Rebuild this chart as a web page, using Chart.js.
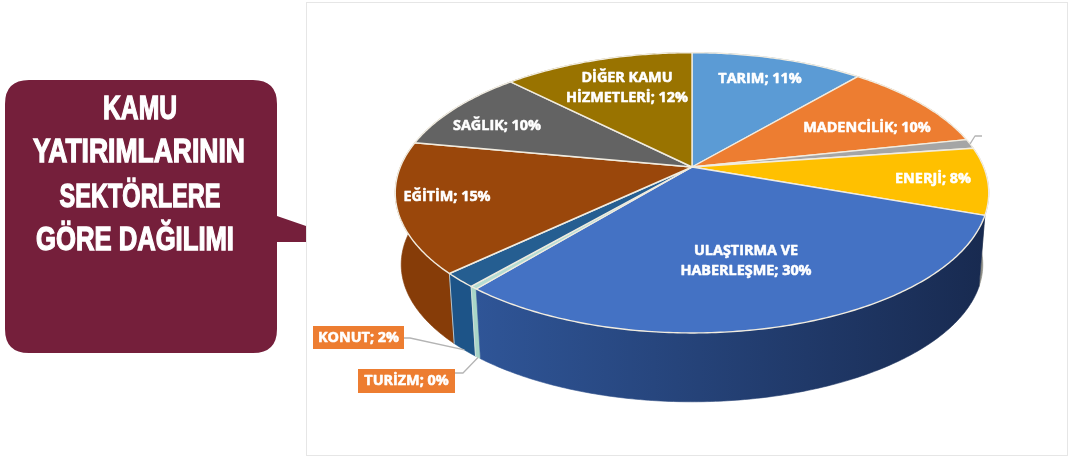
<!DOCTYPE html>
<html lang="tr"><head><meta charset="utf-8">
<style>
html,body{margin:0;padding:0;background:#fff;overflow:hidden}
#wrap{position:relative;width:1069px;height:457px}
#frame{position:absolute;left:306px;top:2px;width:760px;height:452px;border:1px solid #e6e6e6;box-sizing:content-box}
#chart{position:absolute;left:0;top:0;filter:blur(.4px)}
#callout{position:absolute;left:0;top:0;filter:blur(.4px)}
</style>
<script src="https://cdn.jsdelivr.net/npm/chart.js@4/dist/chart.umd.js"></script>
</head><body>
<div id="wrap">
<div id="frame"></div>
<canvas id="chart" width="1069" height="457"></canvas>
<svg id="callout" width="1069" height="457">
  <path d="M29 80H253Q277 80 277 104V216L306 226V242H277V329Q277 353 253 353H29Q5 353 5 329V104Q5 80 29 80Z" fill="#751f3b"/>
  <g fill="#fff" stroke="#fff" stroke-width="1.3" font-family="'Liberation Sans Narrow','Liberation Sans',sans-serif" font-weight="700" font-size="33" text-anchor="middle">
    <text x="140" y="119" textLength="74" lengthAdjust="spacingAndGlyphs">KAMU</text>
    <text x="139" y="162" textLength="212" lengthAdjust="spacingAndGlyphs">YATIRIMLARININ</text>
    <text x="140" y="207" textLength="161" lengthAdjust="spacingAndGlyphs">SEKTÖRLERE</text>
    <text x="135" y="250" textLength="198" lengthAdjust="spacingAndGlyphs">GÖRE DAĞILIMI</text>
  </g>
</svg>
</div>
<script>
const categories = ['TARIM','MADENCİLİK','','ENERJİ','ULAŞTIRMA VE\nHABERLEŞME','TURİZM','KONUT','EĞİTİM','SAĞLIK','DİĞER KAMU\nHİZMETLERİ'];
const shares = [11.2,10.4,1.1,7.7,30.45,0.35,1.65,15,9.6,12.4];
const topColors = ['#5b9bd5','#ed7d31','#a5a5a5','#ffc000','#4472c4','#b5dcd3','#255e91','#9a470b','#636363','#997300'];
const wallLight = ['#4a80b0','#c4682a','#8a8a8a','#8c8c84','#2f5597','#a9d6c8','#1d5488','#863c08','#555555','#7f6000'];
const wallDark  = ['#4a80b0','#c4682a','#8a8a8a','#8c8c84','#182a50','#a9d6c8','#1d5488','#863c08','#555555','#7f6000'];
const labelAnchors = [[760,79],[867,128],null,[933,179],[746,261],null,null,[447,197],[497,126],[627,88]];
const boxedLabels = {5:{x:358,y:369,w:97,h:24,knee:[[463,373],[455,373]]},6:{x:313,y:326,w:91,h:23,knee:[[410,338],[404,338]]}};

const K=0.1843, AX=1.866, BY=0.866, DROP=72.5/157, SHRINK=0.98;
function pt(el,th,low){
  const C=Math.cos(th),S=Math.sin(th),d=1+K*C,R=el.outerRadius,s=low?SHRINK:1;
  return [el.x+AX*R*S/d*s, el.y+(low?DROP*R:0)-BY*R*C/d*s];
}
function rim(el,low){
  const a=el.startAngle+Math.PI/2,b=el.endAngle+Math.PI/2,n=Math.max(2,Math.ceil((b-a)/0.012)),out=[];
  for(let i=0;i<=n;i++)out.push(pt(el,a+(b-a)*i/n,low));
  return out;
}
const pie3d={
  id:'pie3d',
  beforeDatasetsDraw(chart){
    const ctx=chart.ctx,arcs=chart.getDatasetMeta(0).data;
    ctx.save();
    const depth=e=>Math.cos((e.startAngle+e.endAngle)/2+Math.PI/2);
    const order=arcs.map((e,i)=>i).sort((p,q)=>depth(arcs[p])-depth(arcs[q])).reverse();
    for(const i of order){
      const el=arcs[i],t=rim(el,false),b=rim(el,true).reverse(),all=t.concat(b);
      const xs=all.map(p=>p[0]),g=ctx.createLinearGradient(Math.min(...xs),0,Math.max(...xs),0);
      g.addColorStop(0,wallLight[i]);g.addColorStop(1,wallDark[i]);
      ctx.beginPath();all.forEach((p,j)=>j?ctx.lineTo(p[0],p[1]):ctx.moveTo(p[0],p[1]));ctx.closePath();
      ctx.fillStyle=g;ctx.strokeStyle=g;ctx.lineWidth=.6;ctx.fill();ctx.stroke();
    }
    ctx.strokeStyle='rgba(225,230,225,.75)';ctx.lineWidth=1;
    for(const i of [5,6]){
      const th=arcs[i].endAngle+Math.PI/2,p=pt(arcs[i],th,false),q=pt(arcs[i],th,true);
      ctx.beginPath();ctx.moveTo(p[0],p[1]);ctx.lineTo(q[0],q[1]);ctx.stroke();
    }
    arcs.forEach(el=>{
      ctx.beginPath();ctx.moveTo(el.x,el.y);rim(el,false).forEach(p=>ctx.lineTo(p[0],p[1]));ctx.closePath();
      ctx.fillStyle=el.options.backgroundColor;ctx.fill();
      ctx.strokeStyle=el.options.borderColor;ctx.lineWidth=el.options.borderWidth;ctx.lineJoin='round';ctx.stroke();
    });
    ctx.strokeStyle='#b4b4b4';ctx.lineWidth=1.3;
    const line=pts=>{ctx.beginPath();pts.forEach((p,j)=>j?ctx.lineTo(p[0],p[1]):ctx.moveTo(p[0],p[1]));ctx.stroke();};
    for(const i of Object.keys(boxedLabels)){
      const el=arcs[i],m=(el.startAngle+el.endAngle)/2+Math.PI/2,e=pt(el,m,true);
      line([e].concat(boxedLabels[i].knee));
    }
    const g=arcs[2],gp=pt(g,(g.startAngle+g.endAngle)/2+Math.PI/2,false);
    line([[gp[0],gp[1]],[975,136],[982,136]]);
    ctx.textAlign='center';ctx.textBaseline='middle';ctx.font='700 14.4px "Open Sans",sans-serif';
    ctx.lineWidth=.55;ctx.strokeStyle='#fff';ctx.lineJoin='round';
    const pctOf=i=>'; '+Math.round(shares[i])+'%';
    const put=(s,x,y)=>{ctx.fillStyle='#fff';ctx.fillText(s,x,y);ctx.strokeText(s,x,y);};
    labelAnchors.forEach((a,i)=>{
      if(!a)return;
      const lines=categories[i].split('\n');lines[lines.length-1]+=pctOf(i);
      lines.forEach((s,j)=>put(s,a[0],a[1]+(j-(lines.length-1)/2)*19.5));
    });
    for(const i of Object.keys(boxedLabels)){
      const b=boxedLabels[i];
      ctx.fillStyle='#ed7d31';ctx.fillRect(b.x,b.y,b.w,b.h);
      put(categories[i]+pctOf(i),b.x+b.w/2,b.y+b.h/2);
    }
    ctx.restore();
    return false;
  }
};
new Chart(document.getElementById('chart'),{
  type:'pie',
  data:{labels:categories,datasets:[{data:shares,backgroundColor:topColors,borderColor:'#f1ece0',borderWidth:1.4}]},
  options:{responsive:false,animation:false,events:[],
    layout:{padding:{left:392,right:77,top:10,bottom:133}},
    plugins:{legend:{display:false},tooltip:{enabled:false},title:{display:false}}},
  plugins:[pie3d]
});
</script>
</body></html>
